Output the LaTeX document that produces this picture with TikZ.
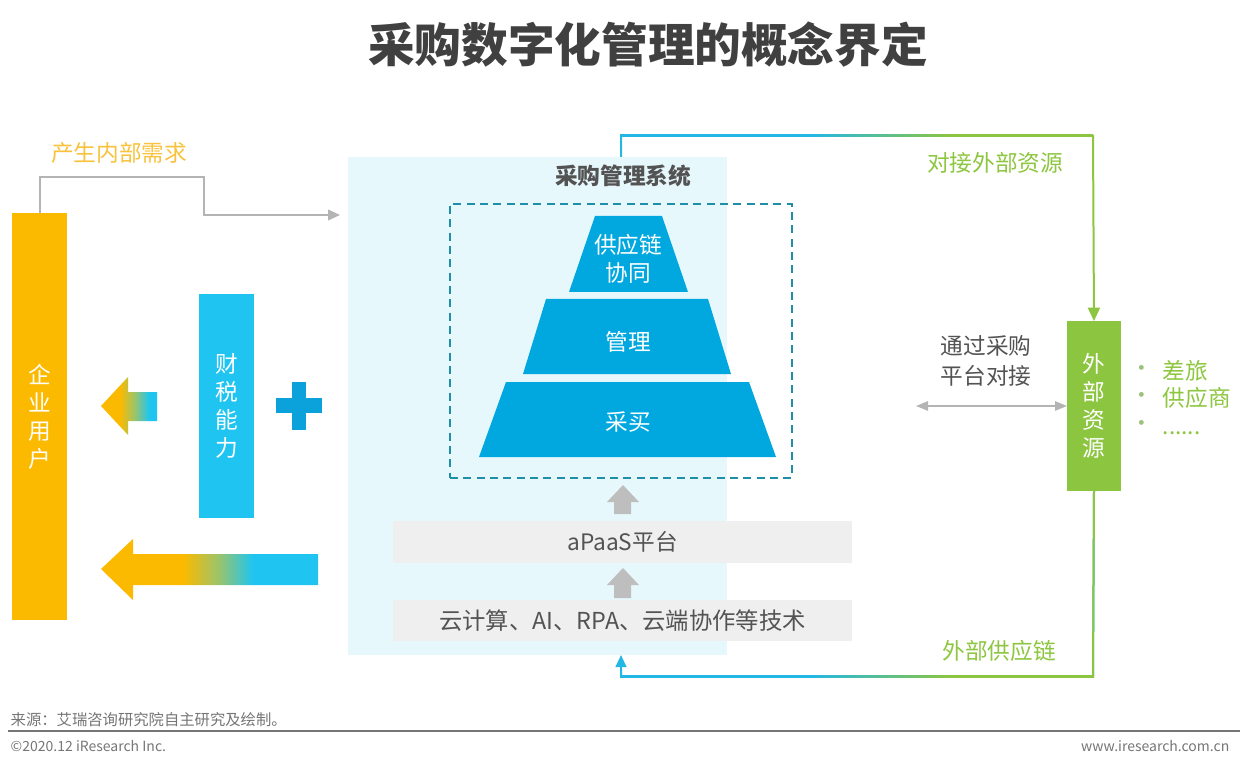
\documentclass[tikz,border=0pt]{standalone}
\usepackage{fontspec}
\setmainfont{Noto Sans CJK SC}
\usetikzlibrary{arrows.meta,fit,calc}
\definecolor{orng}{HTML}{FBBA00}
\definecolor{orngtxt}{HTML}{F8C23C}
\definecolor{lblue}{HTML}{1FC5F0}
\definecolor{pyr}{HTML}{00A8DF}
\definecolor{plusc}{HTML}{0BA2DB}
\definecolor{grn}{HTML}{8CC540}
\definecolor{grntxt}{HTML}{8DC63F}
\definecolor{bulc}{HTML}{9CC27A}
\definecolor{midg}{HTML}{9CC46A}
\definecolor{panelbg}{HTML}{E7F8FD}
\definecolor{graybox}{HTML}{EFEFEF}
\definecolor{grayarr}{HTML}{BEBEBE}
\definecolor{grayline}{HTML}{B4B4B4}
\definecolor{darktxt}{HTML}{404040}
\definecolor{dashc}{HTML}{1F8FA8}
\definecolor{conblue}{HTML}{23B7E5}
\definecolor{footc}{HTML}{767676}
\pgfdeclarehorizontalshading{bigarr}{100bp}{color(0bp)=(orng); color(44bp)=(orng); color(52bp)=(midg); color(60bp)=(lblue); color(100bp)=(lblue)}
\pgfdeclarehorizontalshading{smallarr}{100bp}{color(0bp)=(orng); color(42bp)=(orng); color(55bp)=(midg); color(68bp)=(lblue); color(100bp)=(lblue)}
\pgfdeclarehorizontalshading{conline}{100bp}{color(0bp)=(conblue); color(45bp)=(conblue); color(60bp)=(grn); color(100bp)=(grn)}
\tikzset{
  boxfit/.style={inner sep=0pt, outer sep=0pt},
  vtxt/.style={text=white, align=center, font=\fontsize{17}{21}\selectfont},
  mtxt/.style={font=\fontsize{17}{21}\selectfont, align=center},
  conn/.style={line width=1.5pt},
}
\begin{document}
\begin{tikzpicture}[x=0.75pt,y=-0.75pt]
\useasboundingbox (0,0) rectangle (1240,770);
\fill[white] (0,0) rectangle (1240,770);

% title
\node[font=\bfseries\fontsize{35}{40}\selectfont, text=darktxt] (title) at (648,45) {采购数字化管理的概念界定};

% central panel
\node[boxfit, fill=panelbg, fit={(348,157)(727,655)}] (panel) {};
\node[font=\bfseries\fontsize{17}{21}\selectfont, text=darktxt!90] (systitle) at (623,176) {采购管理系统};

% dashed core box
\node[boxfit, draw=dashc, line width=1.3pt, dash pattern=on 6pt off 4pt, fit={(450,204)(792,478)}] (core) {};

% pyramid
\fill[pyr] (595,216) -- (662,216) -- (688,292) -- (569,292) -- cycle;
\fill[pyr] (546,299) -- (708,299) -- (731,374) -- (523,374) -- cycle;
\fill[pyr] (506,382) -- (749,382) -- (776,457) -- (479,457) -- cycle;
\node[vtxt] (tier1) at (628,259) {供应链\\协同};
\node[vtxt] (tier2) at (628,342) {管理};
\node[vtxt] (tier3) at (628,422) {采买};

% gray up arrows
\fill[grayarr] (623,485) -- (639,502) -- (631,502) -- (631,514) -- (614,514) -- (614,502) -- (607,502) -- cycle;
\fill[grayarr] (623,568) -- (639,585) -- (631,585) -- (631,598) -- (614,598) -- (614,585) -- (607,585) -- cycle;

% gray boxes
\node[boxfit, fill=graybox, fit={(393,521)(852,563)}] (apaas) {};
\node[mtxt, text=darktxt!90] (apaastxt) at (apaas.center) {aPaaS平台};
\node[boxfit, fill=graybox, fit={(393,600)(852,641)}] (tech) {};
\node[mtxt, text=darktxt!90, font=\fontsize{17.5}{21}\selectfont] (techtxt) at (tech.center) {云计算、AI、RPA、云端协作等技术};

% left bars
\node[boxfit, fill=orng, fit={(12,213)(67,620)}] (user) {};
\node[vtxt] (usertxt) at (user.center) {企\\业\\用\\户};
\node[boxfit, fill=lblue, fit={(199,294)(254,518)}] (tax) {};
\node[vtxt] (taxtxt) at (tax.center) {财\\税\\能\\力};

% plus sign
\fill[plusc] (276,398) rectangle (322,413);
\fill[plusc] (292,382) rectangle (306,430);

% gradient arrows
\shade[shading=smallarr] (101,406) -- (128,377) -- (128,392) -- (157,392) -- (157,421) -- (128,421) -- (128,435) -- cycle;
\shade[shading=bigarr] (101,569) -- (133,539) -- (133,554) -- (318,554) -- (318,585) -- (133,585) -- (133,600) -- cycle;

% internal demand connector
\node[font=\fontsize{17}{21}\selectfont, text=orngtxt] (demand) at (119,153) {产生内部需求};
\coordinate (g1) at (40,177);
\coordinate (g2) at (204,177);
\coordinate (g3) at (204,215);
\coordinate (g4) at (340,215);
\draw[conn, draw=grayline, -{Triangle[length=9pt,width=8pt]}, line width=1.3pt] (user.north -| g1) -- (g1) -- (g2) -- (g3) -- (g4);

% external resources
\node[boxfit, fill=grn, fit={(1067,321)(1121,491)}] (ext) {};
\node[vtxt] (exttxt) at (ext.center) {外\\部\\资\\源};

\node[font=\fontsize{17}{21}\selectfont, text=bulc, anchor=west] (b1) at (1126,371) {•};
\node[font=\fontsize{17}{21}\selectfont, text=bulc, anchor=west] (b2) at (1126,398) {•};
\node[font=\fontsize{17}{21}\selectfont, text=bulc, anchor=west] (b3) at (1126,426) {•};
\node[font=\fontsize{17}{21}\selectfont, text=grntxt, anchor=west] (t1) at (1158,371) {差旅};
\node[font=\fontsize{17}{21}\selectfont, text=grntxt, anchor=west] (t2) at (1158,398) {供应商};
\node[font=\fontsize{17}{21}\selectfont, text=grntxt, anchor=base west] (t3) at (1158,434) {......};

% platform connection
\node[mtxt, text=darktxt!90, font=\fontsize{17}{22}\selectfont] (via) at (986,361) {通过采购\\平台对接};
\coordinate (d1) at (916,406);
\draw[conn, draw=grayline, line width=1.3pt, {Triangle[length=9pt,width=7pt]}-{Triangle[length=9pt,width=7pt]}] (d1) -- (ext.west |- d1);

% top connector
\coordinate (tl) at (621,136);
\coordinate (tr) at (1093,136);
\draw[conn, draw=grn, -{Triangle[length=10pt,width=9pt]}] (tl |- panel.north) -- (tl) -- (tr) -- (ext.north);
\draw[conn, draw=conblue] (tl |- panel.north) -- (tl);
\shade[shading=conline] ($(tl)+(-1,-1)$) rectangle ($(tr)+(0,1)$);
\node[font=\fontsize{17}{21}\selectfont, text=grntxt] (dock) at (995,163) {对接外部资源};

% bottom connector
\coordinate (bl) at (621,676);
\coordinate (br) at (1093,676);
\draw[conn, draw=conblue, -{Triangle[length=9pt,width=8pt]}] (ext.south) -- (br) -- (bl) -- (bl |- panel.south);
\draw[conn, draw=grn] (ext.south) -- (br);
\shade[shading=conline] ($(bl)+(-1,-1)$) rectangle ($(br)+(1,1)$);
\node[font=\fontsize{17}{21}\selectfont, text=grntxt] (chain) at (999,651) {外部供应链};

% footer
\node[anchor=west, font=\fontsize{11.5}{13}\selectfont, text=footc] (src) at (6,720) {来源：艾瑞咨询研究院自主研究及绘制。};
\coordinate (fl) at (8,731);
\coordinate (fr) at (1240,731);
\draw[footc, line width=1.5pt] (fl) -- (fr);
\node[anchor=west, font=\fontsize{10.5}{12}\selectfont, text=footc] (copy) at (6,746) {©2020.12 iResearch Inc.};
\node[anchor=east, font=\fontsize{10.5}{12}\selectfont, text=footc] (web) at (1234,746) {www.iresearch.com.cn};
\end{tikzpicture}
\end{document}
